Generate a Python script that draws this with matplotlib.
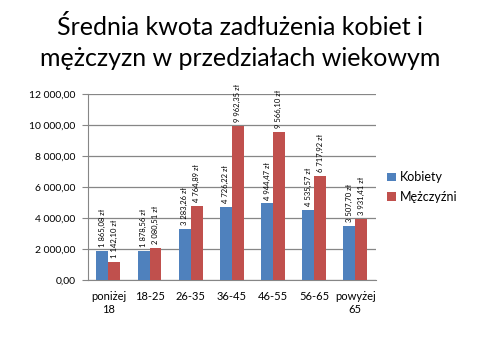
import numpy as np
import matplotlib
matplotlib.use("Agg")
import matplotlib.pyplot as plt

# kategorie wiekowe
groups = ["poniżej\n18", "18-25", "26-35", "36-45", "46-55", "56-65", "powyżej\n65"]
kobiety = [1865.08, 1878.56, 3283.26, 4726.22, 4944.47, 4535.57, 3507.70]
mezczyzni = [1142.10, 2080.51, 4764.89, 9962.35, 9566.10, 6717.92, 3931.41]
yticks = [0, 2000, 4000, 6000, 8000, 10000, 12000]

plt.rcParams['font.family'] = ['Lato', 'DejaVu Sans']


def pl_num(v):
    s = "{:,.2f}".format(v)
    return s.replace(",", " ").replace(".", ",")


fig = plt.figure(figsize=(4.8, 3.6), dpi=100)
ax = fig.add_axes([0.183, 0.222, 0.6, 0.517])

x = np.arange(len(groups))
w = 0.29
b1 = ax.bar(x - w / 2, kobiety, w, color="#4F81BD", label="Kobiety", zorder=3)
b2 = ax.bar(x + w / 2, mezczyzni, w, color="#C0504D", label="Mężczyźni", zorder=3)

for bars, vals in [(b1, kobiety), (b2, mezczyzni)]:
    for r, v in zip(bars, vals):
        ax.text(r.get_x() + r.get_width() / 2, v + 250, pl_num(v) + " zł",
                rotation=90, ha="center", va="bottom", fontsize=5.5)

ax.set_xlim(-0.5, len(groups) - 0.5)
ax.set_ylim(0, 12000)
ax.set_yticks(yticks)
ax.set_yticklabels([pl_num(v) for v in yticks], fontsize=7.5)
ax.set_xticks(x)
ax.set_xticklabels(groups, fontsize=8)
ax.tick_params(axis="x", length=0, pad=8)
ax.tick_params(axis="y", length=4, color="#868686", pad=5)
ax.yaxis.grid(True, color="#868686", linewidth=0.9, zorder=0)
for s in ["top", "right"]:
    ax.spines[s].set_visible(False)
ax.spines["left"].set_color("#868686")
ax.spines["bottom"].set_color("#868686")

fig.text(0.5, 0.882, "Średnia kwota zadłużenia kobiet i\nmężczyzn w przedziałach wiekowym",
         ha="center", va="center", fontsize=18, linespacing=1.45)

ax.legend(loc="center left", bbox_to_anchor=(1.0, 0.5), frameon=False,
          fontsize=9, handlelength=0.7, handleheight=0.7, handletextpad=0.3,
          labelspacing=0.6)

fig.savefig("out.png", dpi=100)
